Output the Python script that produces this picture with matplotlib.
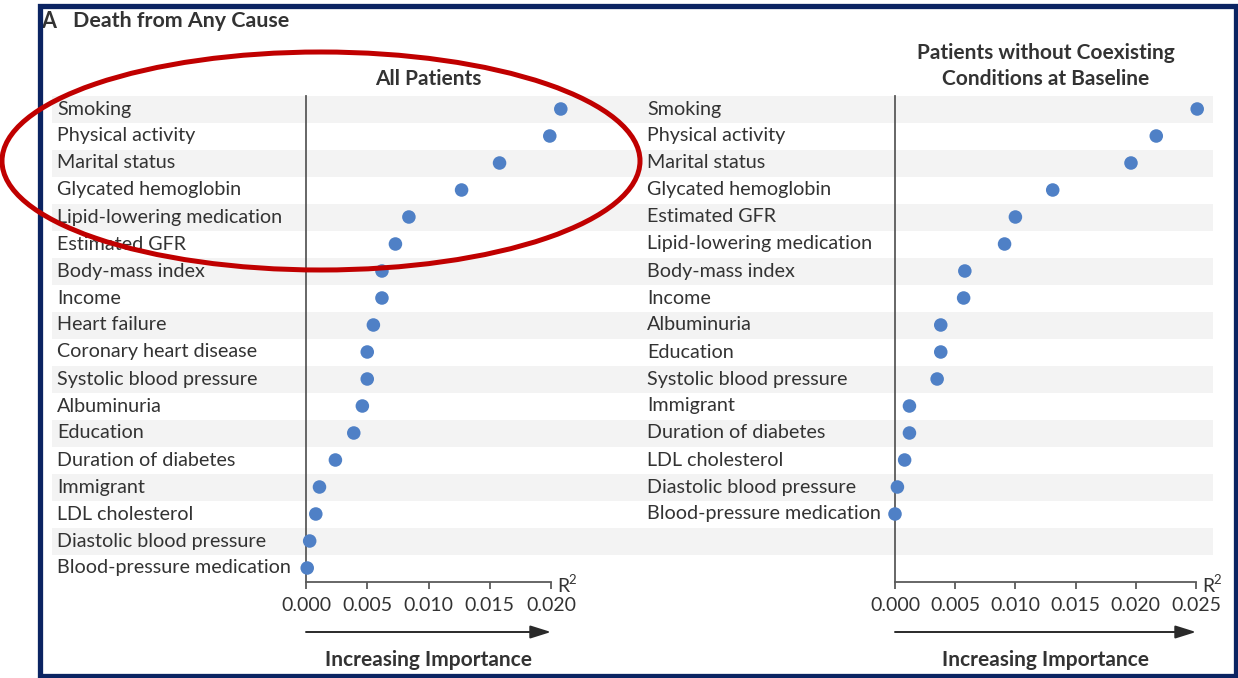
import matplotlib
matplotlib.use("Agg")
import matplotlib.pyplot as plt
from matplotlib import transforms
from matplotlib.patches import Rectangle, Ellipse, FancyArrowPatch

plt.rcParams['font.family'] = ['Lato', 'DejaVu Sans']

# R^2 contribution of each predictor, death from any cause
all_labels = [
    "Smoking", "Physical activity", "Marital status", "Glycated hemoglobin",
    "Lipid-lowering medication", "Estimated GFR", "Body-mass index", "Income",
    "Heart failure", "Coronary heart disease", "Systolic blood pressure",
    "Albuminuria", "Education", "Duration of diabetes", "Immigrant",
    "LDL cholesterol", "Diastolic blood pressure", "Blood-pressure medication",
]
all_r2 = [0.0208, 0.0199, 0.0158, 0.0127, 0.0084, 0.0073, 0.0062, 0.0062,
          0.0055, 0.0050, 0.0050, 0.0046, 0.0039, 0.0024, 0.0011, 0.0008,
          0.0003, 0.0001]

nocc_labels = [
    "Smoking", "Physical activity", "Marital status", "Glycated hemoglobin",
    "Estimated GFR", "Lipid-lowering medication", "Body-mass index", "Income",
    "Albuminuria", "Education", "Systolic blood pressure", "Immigrant",
    "Duration of diabetes", "LDL cholesterol", "Diastolic blood pressure",
    "Blood-pressure medication",
]
nocc_r2 = [0.0251, 0.0217, 0.0196, 0.0131, 0.0100, 0.0091, 0.0058, 0.0057,
           0.0038, 0.0038, 0.0035, 0.0012, 0.0012, 0.0008, 0.0002, 0.0000]

all_ticks = [0.000, 0.005, 0.010, 0.015, 0.020]
nocc_ticks = [0.000, 0.005, 0.010, 0.015, 0.020, 0.025]

panel_titles = [["All Patients"],
                ["Patients without Coexisting", "Conditions at Baseline"]]
figure_title = "Death from Any Cause"
panel_letter = "A"
x_caption = "Increasing Importance"

N_ROWS = len(all_labels)

TEXT = "#333333"
AXIS = "#5a5a5a"
DOT = "#4f80c6"
STRIPE = "#f3f3f3"
NAVY = "#0b2462"
RED = "#c00000"

W, H = 1238, 678
fig = plt.figure(figsize=(W / 100, H / 100), dpi=100)


def pixel_axes(x0, x1, y0, y1):
    """Axes placed by pixel box measured from the top-left corner."""
    return fig.add_axes([x0 / W, 1 - y1 / H, (x1 - x0) / W, (y1 - y0) / H])


bg = fig.add_axes([0, 0, 1, 1])
bg.set_xlim(0, W)
bg.set_ylim(H, 0)
bg.axis("off")

axL = pixel_axes(306, 551, 95.5, 581.5)
axR = pixel_axes(895, 1196, 95.5, 581.5)

rows = transforms.blended_transform_factory(bg.transData, axL.transData)

# alternating row bands across both panels
for i in range(0, N_ROWS, 2):
    bg.add_patch(Rectangle((52, i - 0.5), 1213 - 52, 1.0, transform=rows,
                           facecolor=STRIPE, edgecolor="none"))

LABEL_FS = 14.2
TICK_FS = 14.0
HEAD_FS = 15.0


def draw_panel(ax, labels, values, ticks, label_x, title_lines):
    ax.patch.set_alpha(0)
    ax.set_xlim(ticks[0], ticks[-1])
    ax.set_ylim(N_ROWS - 0.5, -0.5)
    for s in ("top", "right"):
        ax.spines[s].set_visible(False)
    for s in ("left", "bottom"):
        ax.spines[s].set_color(AXIS)
        ax.spines[s].set_linewidth(1.3)
    ax.set_yticks([])
    ax.set_xticks(ticks)
    ax.set_xticklabels([f"{t:.3f}" for t in ticks])
    ax.tick_params(axis="x", direction="out", length=5, width=1.3,
                   color=AXIS, labelcolor=TEXT, labelsize=TICK_FS, pad=6)
    ypos = list(range(len(values)))
    ax.scatter(values, ypos, s=95, color=DOT, edgecolors="none",
               clip_on=False, zorder=5)
    for i, lab in enumerate(labels):
        bg.text(label_x, i, lab, transform=rows, ha="left", va="center",
                fontsize=LABEL_FS, color=TEXT)

    xa = transforms.blended_transform_factory(ax.transAxes, bg.transData)
    # axis unit "R²" beside the end of the x axis
    r_off = transforms.offset_copy(xa, fig=fig, x=6, y=0, units="dots")
    bg.text(1.0, 586, "R", transform=r_off, ha="left", va="center",
            fontsize=TICK_FS, color=TEXT)
    s_off = transforms.offset_copy(xa, fig=fig, x=17, y=6, units="dots")
    bg.text(1.0, 586, "2", transform=s_off, ha="left", va="center",
            fontsize=9.5, color=TEXT)

    arrow = FancyArrowPatch((0, 632), (1, 632), transform=xa,
                            arrowstyle="-|>,head_length=0.7,head_width=0.22",
                            mutation_scale=18, color="#2a2a2a",
                            linewidth=1.4, shrinkA=0, shrinkB=0)
    bg.add_patch(arrow)
    bg.text(0.5, 660, x_caption, transform=xa, ha="center", va="center",
            fontsize=HEAD_FS, fontweight="bold", color=TEXT)
    n = len(title_lines)
    for k, line in enumerate(title_lines):
        bg.text(0.5, 79 - 26 * (n - 1 - k), line, transform=xa,
                ha="center", va="center", fontsize=HEAD_FS,
                fontweight="bold", color=TEXT)


draw_panel(axL, all_labels, all_r2, all_ticks, 57, panel_titles[0])
draw_panel(axR, nocc_labels, nocc_r2, nocc_ticks, 647, panel_titles[1])

bg.text(41, 21, panel_letter, ha="left", va="center", fontsize=15.5,
        fontweight="bold", color=TEXT)
bg.text(73, 21, figure_title, ha="left", va="center", fontsize=15.4,
        fontweight="bold", color=TEXT)

# frame and highlight drawn on top of everything
top = fig.add_axes([0, 0, 1, 1])
top.set_xlim(0, W)
top.set_ylim(H, 0)
top.axis("off")
top.patch.set_alpha(0)
top.add_patch(Rectangle((39.5, 5.5), 1235.5 - 39.5, 675.5 - 5.5,
                        facecolor="none", edgecolor=NAVY, linewidth=3.8))
top.add_patch(Ellipse((321, 161), 638, 218, facecolor="none",
                      edgecolor=RED, linewidth=3.6))

fig.savefig("out.png", dpi=100)
